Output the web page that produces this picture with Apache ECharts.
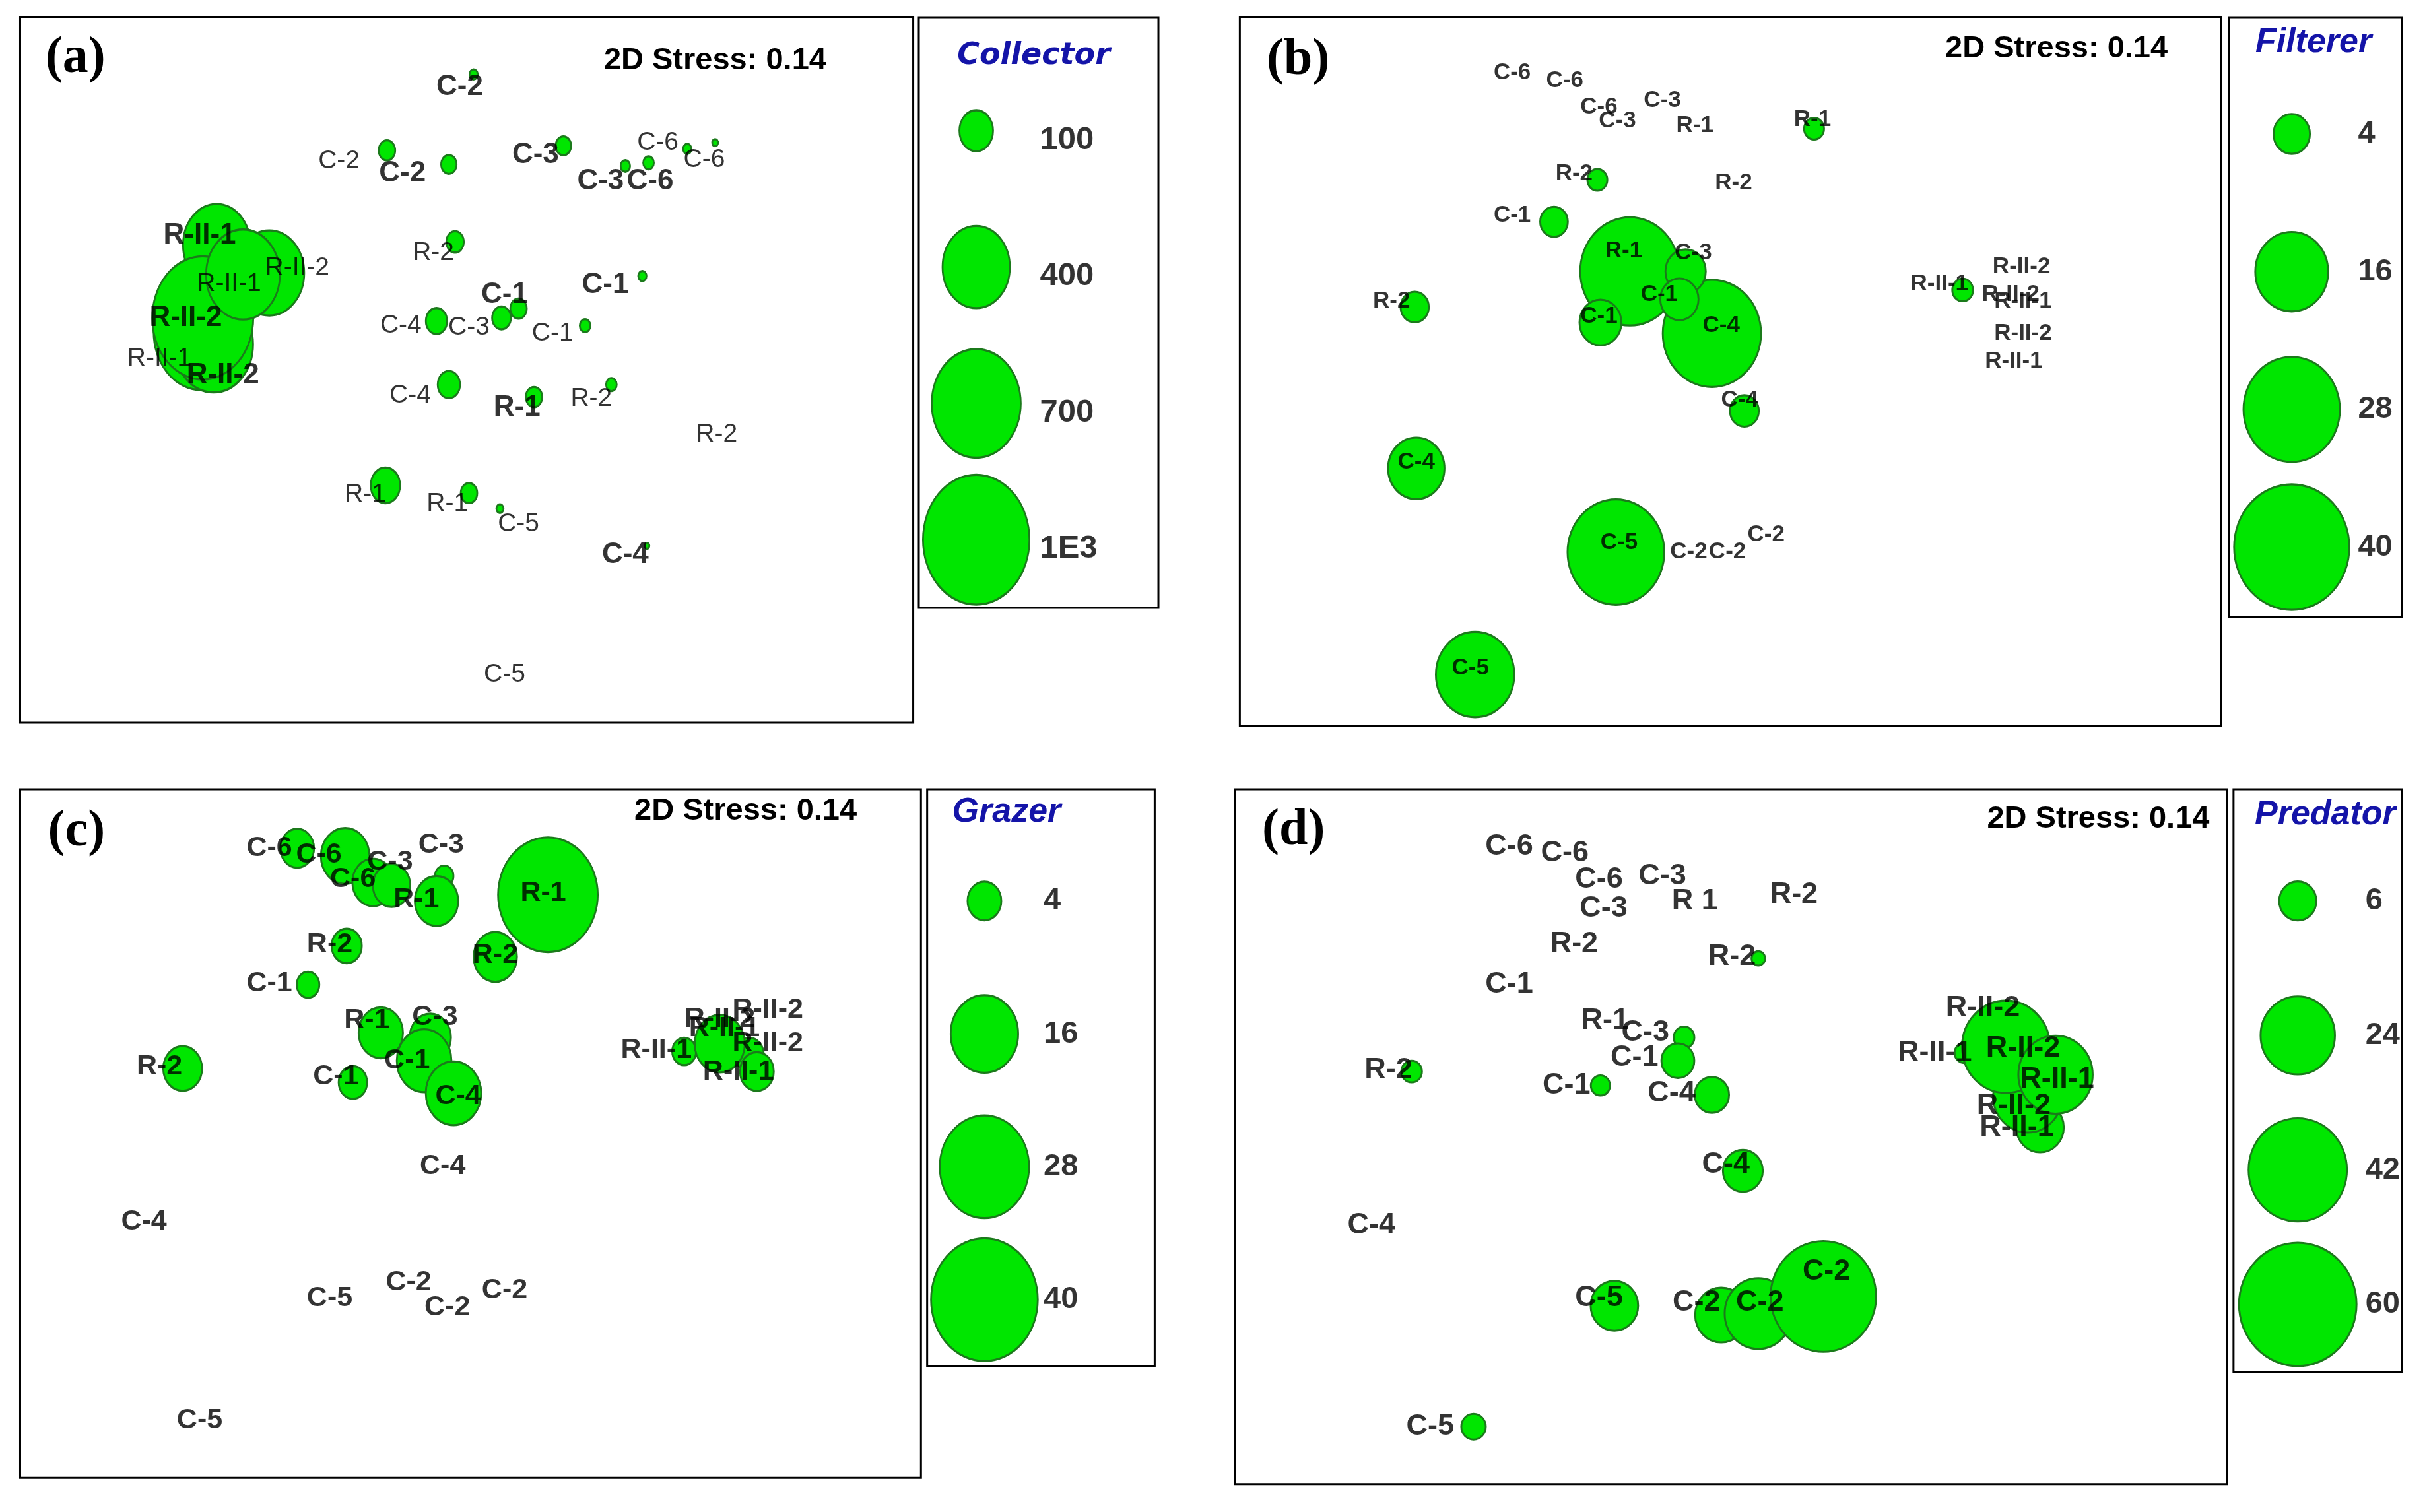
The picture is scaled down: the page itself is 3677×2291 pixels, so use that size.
<!DOCTYPE html>
<html><head><meta charset="utf-8">
<script src="https://cdn.jsdelivr.net/npm/echarts@6/dist/echarts.min.js"></script>
<style>html,body{margin:0;padding:0;background:#fff}#c{width:3677px;height:2291px}</style>
</head><body><div id="c"></div>
<script>
// ===== DATA (picture units: x to the right, y upward from each frame's lower-left corner) =====
// (a) Collector
const aLabels = ['C-2','C-2','C-2','C-3','C-6','C-6','C-3','C-6','R-II-1','R-II-1','R-II-2','R-II-2','R-II-1','R-II-2','R-2','C-1','C-1','C-4','C-3','C-1','C-4','R-1','R-2','R-2','R-1','R-1','C-5','C-4','C-5'];
const aLabelX = [284,206,247,333,412,442,375,407,116,135,179,107,90,131,267,313,378,246,290,344,252,321,369,450,223,276,322,391,313];
const aLabelY = [410,362,354,366,374,363,349,349,314,283,293,261,235,224,303,276,282,256,255,251,211,203,209,186,147,141,128,108,31];
const aBubbleX = [293,237,277,351,431,449,391,406,127,161,117,125,118,144,281,322,402,269,311,365,277,332,382,236,290,310,405];
const aBubbleY = [418,369,360,372,370,374,359,361,308,290,252,244,261,289,310,267,288,259,261,256,218,210,218,153,148,138,114];
const aBubbleV = [6,24,21,21,6,3,8,10,400,430,800,550,900,480,27,24,6,40,31,10,44,24,10,76,24,4.5,2];
const aLegendValues = [100,400,700,1000];
const aLegendText = ['100','400','700','1E3'];

// (b) Filterer
const bLabels = ['C-6','C-6','C-6','C-3','C-3','R-1','R-1','R-2','R-2','C-1','R-1','C-3','C-1','C-1','C-4','C-4','R-2','C-4','C-5','C-2','C-2','C-2','C-5','R-II-1','R-II-2','R-II-2','R-II-1','R-II-2','R-II-1'];
const bLabelX = [176,210,232,244,273,294,370,216,319,176,248,293,271,232,311,323,98,114,245,290,315,340,149,452,505,498,506,506,500];
const bLabelY = [421,416,399,390,403,387,391,356,350,329,306,305,278,264,258,210,274,170,118,112,112,123,37,285,296,278,274,253,235];
const bBubbleX = [371,231,203,252,305,288,284,233,326,113,114,243,152,467];
const bBubbleY = [385,352,325,293,253,293,275,260,203,270,166,112,33,281];
const bBubbleV = [1.2,1.2,2.3,29.7,29.1,4.9,4.4,5.3,2.5,2.4,9.6,28.2,18.5,1.3];
const bLegendValues = [4,16,28,40];
const bLegendText = ['4','16','28','40'];

// (c) Grazer
const cLabels = ['C-6','C-6','C-6','C-3','C-3','R-1','R-1','R-2','R-2','C-1','R-1','C-3','C-1','C-4','C-1','R-2','C-4','C-4','C-5','C-2','C-2','C-2','C-5','R-II-1','R-II-2','R-II-1','R-II-2','R-II-2','R-II-1'];
const cLabelX = [161,193,215,239,272,256,338,200,307,161,224,268,250,283,204,90,273,80,200,251,276,313,116,411,452,455,483,483,464];
const cLabelY = [406,402,386,397,408,373,377,344,337,319,295,297,269,246,259,265,201,165,116,126,110,121,37,276,296,290,302,280,262];
const cBubbleX = [179,210,228,240,274,269,341,211,307,186,233,265,261,280,215,105,429,471,476,452];
const cBubbleY = [406,401,384,382,388,372,376,343,336,318,287,284,269,248,255,264,275,273,262,280];
const cBubbleV = [4.0,8.3,6.0,4.9,1.2,6.6,34.9,3.2,6.6,1.8,6.9,6.0,10.5,10.8,2.85,5.3,2.0,3.0,4.0,8.8];
const cLegendValues = [4,16,28,40];
const cLegendText = ['4','16','28','40'];

// (d) Predator
const dLabels = ['C-6','C-6','C-6','C-3','C-3','R 1','R-2','R-2','R-2','C-1','R-1','C-3','C-1','C-1','C-4','R-2','C-4','C-4','C-5','C-2','C-2','C-2','C-5','R-II-2','R-II-1','R-II-2','R-II-1','R-II-2','R-II-1'];
const dLabelX = [177,213,235,276,238,297,361,219,321,177,239,265,258,214,282,99,317,88,235,298,339,382,126,483,452,509,531,503,505];
const dLabelY = [411,407,390,392,371,376,380,348,340,322,299,291,275,257,252,267,206,167,120,117,117,137,37,307,278,281,261,244,230];
const dBubbleX = [338,290,286,236,308,114,328,245,314,338,380,154,471,520,512,498,530];
const dBubbleY = [339,288,273,257,251,266,202,115,109,110,121,37,278,230,250,282,264];
const dBubbleV = [0.8,1.85,4.7,1.6,5.1,1.85,6.9,9.8,11.8,19.7,48.4,2.6,1.6,9.8,20.6,33.6,24];
const dLegendValues = [6,24,42,60];
const dLegendText = ['6','24','42','60'];

// ===== LAYOUT (reference-image units, scaled to the page) =====
const SX = 3677 / 1568, SY = 2291 / 975;
const SANS = '"Liberation Sans", Arial, sans-serif';
const panels = [
  {tag:'(a)', title:'Collector', titleFamily:'"DejaVu Sans", sans-serif', titleSize:46,
   frame:[13,11,590,466], box:[593.6,11.5,748.4,392], tagAt:[48.7,37.6], stressAt:[462,39], titleAt:[667.8,36.2],
   leg:{cx:630.7, cy:84.3, dy:87.9, lx:671.6, ldy:6, size:49},
   k:2.175, asp:1.22, font:39, weight:'normal', boldFont:44, boldIdx:[0,2,3,6,7,8,11,13,15,16,21,27],
   names:aLabels, lx:aLabelX, ly:aLabelY, bx:aBubbleX, by:aBubbleY, bv:aBubbleV, legV:aLegendValues, legT:aLegendText},
  {tag:'(b)', title:'Filterer', titleFamily:SANS, titleSize:52,
   frame:[801,11,1435,468], box:[1440,11.5,1552,398], tagAt:[838.7,39.2], stressAt:[1328.6,31.6], titleAt:[1494.7,27.7],
   leg:{cx:1480.6, cy:86.4, dy:88.8, lx:1523.2, ldy:0, size:47},
   k:11.77, asp:1.09, font:35, weight:'bold', boldFont:35, boldIdx:[],
   names:bLabels, lx:bLabelX, ly:bLabelY, bx:bBubbleX, by:bBubbleY, bv:bBubbleV, legV:bLegendValues, legT:bLegendText},
  {tag:'(c)', title:'Grazer', titleFamily:SANS, titleSize:52,
   frame:[13,509,595,953], box:[599,509,746,881], tagAt:[49.4,536.8], stressAt:[481.7,523.2], titleAt:[650.3,523.9],
   leg:{cx:636, cy:581, dy:85.7, lx:674, ldy:0, size:47},
   k:10.9, asp:1.15, font:43, weight:'bold', boldFont:43, boldIdx:[],
   names:cLabels, lx:cLabelX, ly:cLabelY, bx:cBubbleX, by:cBubbleY, bv:cBubbleV, legV:cLegendValues, legT:cLegendText},
  {tag:'(d)', title:'Predator', titleFamily:SANS, titleSize:52,
   frame:[798,509,1439,957], box:[1443,509,1552,885], tagAt:[835.7,535.9], stressAt:[1355.6,528.3], titleAt:[1502.3,525.4],
   leg:{cx:1484.5, cy:581, dy:86.7, lx:1528, ldy:0, size:47},
   k:9.8, asp:1.05, font:45, weight:'bold', boldFont:45, boldIdx:[],
   names:dLabels, lx:dLabelX, ly:dLabelY, bx:dBubbleX, by:dBubbleY, bv:dBubbleV, legV:dLegendValues, legT:dLegendText}
];

const BUBBLE = {color:'#00e600', borderColor:'#1b7a1b', borderWidth:3, opacity:1};
const option = {animation:false, backgroundColor:'#ffffff', grid:[], xAxis:[], yAxis:[], series:[], graphic:[]};

panels.forEach(p => {
  const sizeFn = v => { const w = p.k * Math.sqrt(v[2]) * SX; return [w, w * p.asp]; };
  // plot frame
  const g = option.grid.length;
  const [l, t, r, b] = p.frame;
  option.grid.push({left:l*SX, top:t*SY, width:(r-l)*SX, height:(b-t)*SY, show:true, borderColor:'#000', borderWidth:3, backgroundColor:'transparent'});
  option.xAxis.push({type:'value', gridIndex:g, min:0, max:r-l, show:false, splitLine:{show:false}});
  option.yAxis.push({type:'value', gridIndex:g, min:0, max:b-t, show:false, splitLine:{show:false}});
  option.series.push({type:'scatter', xAxisIndex:g, yAxisIndex:g, z:2, clip:false, silent:true,
    data:p.bx.map((x, j) => [x, p.by[j], p.bv[j]]), symbol:'circle', symbolSize:sizeFn, itemStyle:BUBBLE, emphasis:{disabled:true}});
  option.series.push({type:'scatter', xAxisIndex:g, yAxisIndex:g, z:3, clip:false, silent:true,
    data:p.names.map((n, j) => {
      const isB = p.boldIdx.indexOf(j) >= 0;
      return {value:[p.lx[j], p.ly[j]], name:n, label:isB ? {fontWeight:'bold', fontSize:p.boldFont} : {}};
    }),
    symbolSize:1, itemStyle:{color:'rgba(0,0,0,0)'}, emphasis:{disabled:true},
    label:{show:true, position:'inside', formatter:'{b}', color:'#000', fontFamily:SANS, fontSize:p.font, fontWeight:p.weight}});

  // legend box
  const lg = option.grid.length;
  const [bl, bt, br, bb] = p.box;
  option.grid.push({left:bl*SX, top:bt*SY, width:(br-bl)*SX, height:(bb-bt)*SY, show:true, borderColor:'#000', borderWidth:3, backgroundColor:'transparent'});
  option.xAxis.push({type:'value', gridIndex:lg, min:0, max:br-bl, show:false, splitLine:{show:false}});
  option.yAxis.push({type:'value', gridIndex:lg, min:0, max:bb-bt, inverse:true, show:false, splitLine:{show:false}});
  option.series.push({type:'scatter', xAxisIndex:lg, yAxisIndex:lg, z:2, clip:false, silent:true,
    data:p.legV.map((v, j) => [p.leg.cx - bl, p.leg.cy + j*p.leg.dy - bt, v]), symbolSize:sizeFn, itemStyle:BUBBLE, emphasis:{disabled:true}});
  option.series.push({type:'scatter', xAxisIndex:lg, yAxisIndex:lg, z:3, clip:false, silent:true,
    data:p.legT.map((s, j) => ({value:[p.leg.lx - bl, p.leg.cy + j*p.leg.dy - bt + p.leg.ldy], name:s})),
    symbolSize:1, itemStyle:{color:'rgba(0,0,0,0)'}, emphasis:{disabled:true},
    label:{show:true, position:'right', distance:0, formatter:'{b}', color:'#000', fontFamily:SANS, fontSize:p.leg.size, fontWeight:'bold'}});

  // texts
  option.graphic.push({type:'text', x:p.tagAt[0]*SX, y:p.tagAt[1]*SY, z:10,
    style:{text:p.tag, fontFamily:'"Liberation Serif", "Times New Roman", serif', fontWeight:'bold', fontSize:78, fill:'#000', align:'center', verticalAlign:'middle'}});
  option.graphic.push({type:'text', x:p.stressAt[0]*SX, y:p.stressAt[1]*SY, z:10,
    style:{text:'2D Stress: 0.14', fontFamily:SANS, fontWeight:'bold', fontSize:47, fill:'#000', align:'center', verticalAlign:'middle'}});
  option.graphic.push({type:'text', x:p.titleAt[0]*SX, y:p.titleAt[1]*SY, z:10,
    style:{text:p.title, fontFamily:p.titleFamily, fontWeight:'bold', fontStyle:'italic', fontSize:p.titleSize, fill:'#1414a8', align:'center', verticalAlign:'middle'}});
});

const chart = echarts.init(document.getElementById('c'), null, {renderer:'canvas', width:3677, height:2291});
chart.setOption(option);
</script>
</body></html>
